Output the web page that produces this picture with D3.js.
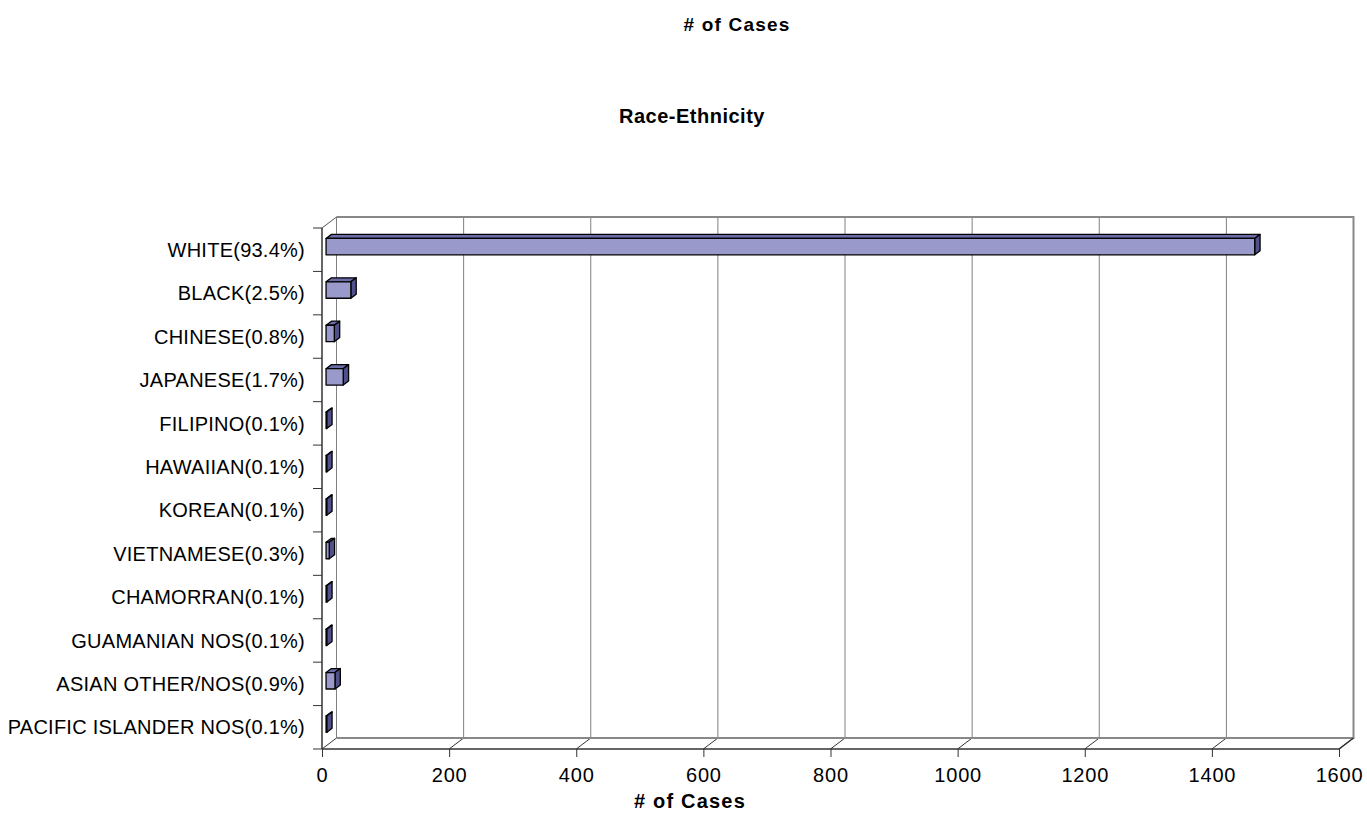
<!DOCTYPE html>
<html>
<head>
<meta charset="utf-8">
<script src="https://cdn.jsdelivr.net/npm/d3@7"></script>
<style>
  html, body { margin: 0; padding: 0; background: #fff; }
  svg { display: block; font-family: "Liberation Sans", Arial, sans-serif; }
</style>
</head>
<body>
<svg id="chart" width="1367" height="837"></svg>
<script>
// Case counts by race / ethnicity
const categories = [
  "WHITE(93.4%)", "BLACK(2.5%)", "CHINESE(0.8%)", "JAPANESE(1.7%)",
  "FILIPINO(0.1%)", "HAWAIIAN(0.1%)", "KOREAN(0.1%)", "VIETNAMESE(0.3%)",
  "CHAMORRAN(0.1%)", "GUAMANIAN NOS(0.1%)", "ASIAN OTHER/NOS(0.9%)",
  "PACIFIC ISLANDER NOS(0.1%)"
];
const cases = [1461, 39, 13, 27, 1, 1, 1, 5, 1, 1, 14, 1];
const xTicks = [0, 200, 400, 600, 800, 1000, 1200, 1400, 1600];
const chartTitle = "# of Cases";
const chartSubtitle = "Race-Ethnicity";
const xAxisTitle = "# of Cases";

const svg = d3.select("#chart");
const FONT = "Liberation Sans, Arial, sans-serif";

// Plot frame (front plane) and depth offset of the back wall
const plotLeft = 322, plotRight = 1339, plotTop = 228, plotBottom = 749;
const DX = 14.5, DY = -11;

const x = d3.scaleLinear().domain([0, 1600]).range([plotLeft, plotRight]);
const y = d3.scaleBand().domain(categories).range([plotTop, plotBottom]);

const grid = svg.append("g").attr("fill", "none");

// Back wall gridlines
grid.selectAll("line.grid").data(xTicks).join("line")
  .attr("class", "grid")
  .attr("x1", d => x(d) + DX).attr("x2", d => x(d) + DX)
  .attr("y1", plotTop + DY).attr("y2", plotBottom + DY)
  .attr("stroke", "#808080").attr("stroke-width", 1);

// Floor diagonals at each tick
grid.selectAll("line.floor").data(xTicks).join("line")
  .attr("class", "floor")
  .attr("x1", d => x(d)).attr("x2", d => x(d) + DX)
  .attr("y1", plotBottom).attr("y2", plotBottom + DY)
  .attr("stroke", "#333").attr("stroke-width", 1);

// Back wall outline
grid.append("path")
  .attr("d", `M${x(0) + DX},${plotTop + DY}H${x(1600) + DX}V${plotBottom + DY}H${x(0) + DX}`)
  .attr("stroke", "#888").attr("stroke-width", 2);
// Top-left depth edge
grid.append("line")
  .attr("x1", plotLeft).attr("y1", plotTop).attr("x2", plotLeft + DX).attr("y2", plotTop + DY)
  .attr("stroke", "#555").attr("stroke-width", 1);

// Bars (3D boxes)
const d1 = 0.28, d2 = 0.65, barH = 16.4;
const frontFill = "#9999cc", topFill = "#6b6ba8", sideFill = "#50508a";
const bars = svg.append("g").attr("stroke", "#000").attr("stroke-width", 1.3)
  .attr("stroke-linejoin", "round");

categories.forEach((c, i) => {
  const v = cases[i];
  const yc = y(c) + y.bandwidth() / 2;
  const fx0 = x(0) + d1 * DX, fx1 = x(v) + d1 * DX;
  const fy0 = yc - barH / 2 + d1 * DY, fy1 = fy0 + barH;
  const ox = (d2 - d1) * DX, oy = (d2 - d1) * DY;
  const g = bars.append("g");
  // top face
  g.append("path")
    .attr("d", `M${fx0},${fy0}L${fx0 + ox},${fy0 + oy}L${fx1 + ox},${fy0 + oy}L${fx1},${fy0}Z`)
    .attr("fill", topFill);
  // side face
  g.append("path")
    .attr("d", `M${fx1},${fy0}L${fx1 + ox},${fy0 + oy}L${fx1 + ox},${fy1 + oy}L${fx1},${fy1}Z`)
    .attr("fill", sideFill);
  // front face
  g.append("rect")
    .attr("x", fx0).attr("y", fy0)
    .attr("width", Math.max(0, fx1 - fx0)).attr("height", barH)
    .attr("fill", frontFill);
});

// Front axes
const axes = svg.append("g");
const xAxis = d3.axisBottom(x).tickValues(xTicks).tickSize(8).tickPadding(11)
  .tickFormat(d3.format("d"));
axes.append("g").attr("transform", `translate(0,${plotBottom})`).call(xAxis)
  .call(g => g.select(".domain").attr("stroke", "#333").attr("stroke-width", 1.5)
    .attr("d", `M${plotLeft},0H${plotRight}L${plotRight + DX},${DY}`))
  .call(g => g.selectAll(".tick line").attr("stroke", "#333"))
  .call(g => g.selectAll(".tick text").attr("font-size", 20).attr("fill", "#000")
    .attr("letter-spacing", 0.8).attr("font-family", FONT));

const yAxis = d3.axisLeft(y).tickSize(0).tickPadding(17);
const ya = axes.append("g").attr("transform", `translate(${plotLeft},0)`).call(yAxis);
ya.select(".domain").attr("stroke", "#333").attr("stroke-width", 1.5)
  .attr("d", `M0,${plotTop}V${plotBottom}`);
ya.selectAll(".tick text").attr("font-size", 20).attr("fill", "#000")
  .attr("letter-spacing", 0.25).attr("font-family", FONT)
  .attr("dy", "0.36em");
// Category boundary ticks
const bounds = categories.map(c => y(c)).concat([plotBottom]);
ya.selectAll("line.bound").data(bounds).join("line")
  .attr("class", "bound")
  .attr("x1", -9).attr("x2", 0).attr("y1", d => d).attr("y2", d => d)
  .attr("stroke", "#333");

// Titles
svg.append("text").attr("x", 737).attr("y", 31).attr("text-anchor", "middle")
  .attr("font-size", 19).attr("font-weight", "bold").attr("letter-spacing", 1.2)
  .text(chartTitle);
svg.append("text").attr("x", 692).attr("y", 123).attr("text-anchor", "middle")
  .attr("font-size", 20).attr("font-weight", "bold").attr("letter-spacing", 0.5)
  .text(chartSubtitle);
svg.append("text").attr("x", 690).attr("y", 808).attr("text-anchor", "middle")
  .attr("font-size", 20).attr("font-weight", "bold").attr("letter-spacing", 1.2)
  .text(xAxisTitle);
</script>
</body>
</html>
